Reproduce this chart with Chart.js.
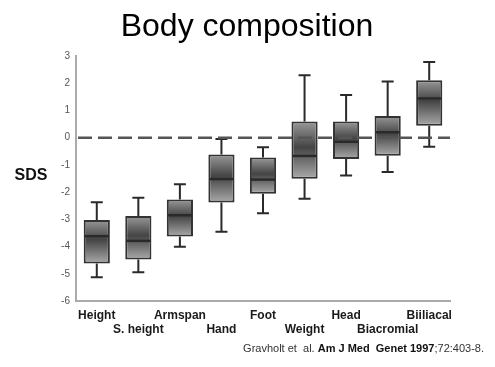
<!DOCTYPE html>
<html>
<head>
<meta charset="utf-8">
<script src="https://cdn.jsdelivr.net/npm/chart.js@4"></script>
<style>
  html, body { margin: 0; padding: 0; background: #fff; }
</style>
</head>
<body>
<canvas id="bodyChart" width="495" height="367"></canvas>
<script>
// Data (SDS per body measure)
const categories = ['Height', 'S. height', 'Armspan', 'Hand', 'Foot', 'Weight', 'Head', 'Biacromial', 'Biiliacal'];
const whiskerLow   = [-5.13, -4.94, -4.01, -3.46, -2.78, -2.24, -1.39, -1.26, -0.33];
const quartileLow  = [-4.62, -4.48, -3.63, -2.38, -2.06, -1.51, -0.78, -0.66, 0.44];
const medians      = [-3.62, -3.79, -2.85, -1.52, -1.54, -0.67, -0.15, 0.20, 1.44];
const quartileHigh = [-3.02, -2.88, -2.27, -0.62, -0.73, 0.59, 0.59, 0.80, 2.11];
const whiskerHigh  = [-2.37, -2.21, -1.71, -0.05, -0.35, 2.29, 1.57, 2.06, 2.78];
const yTicks = [3, 2, 1, 0, -1, -2, -3, -4, -5, -6];

const FONT = "'Liberation Sans', Arial, sans-serif";

// Whiskers, medians, zero line, title, side label and citation
const boxPlotPlugin = {
    id: 'boxPlot',
    afterDatasetsDraw(chart) {
        const { ctx, chartArea, scales: { y } } = chart;
        const meta = chart.getDatasetMeta(0);
        ctx.save();
        ctx.strokeStyle = '#2a2a2a';
        meta.data.forEach((bar, i) => {
            const x = bar.x;
            const half = bar.width / 2;
            const capHalf = 6;
            const yMax = y.getPixelForValue(whiskerHigh[i]);
            const yMin = y.getPixelForValue(whiskerLow[i]);
            const yQ3 = y.getPixelForValue(quartileHigh[i]);
            const yQ1 = y.getPixelForValue(quartileLow[i]);
            const yMed = y.getPixelForValue(medians[i]);

            ctx.lineWidth = 2;
            ctx.beginPath();
            ctx.moveTo(x, yQ3); ctx.lineTo(x, yMax);
            ctx.moveTo(x - capHalf, yMax); ctx.lineTo(x + capHalf, yMax);
            ctx.moveTo(x, yQ1); ctx.lineTo(x, yMin);
            ctx.moveTo(x - capHalf, yMin); ctx.lineTo(x + capHalf, yMin);
            ctx.stroke();

            ctx.lineWidth = 2.5;
            ctx.beginPath();
            ctx.moveTo(x - half + 1, yMed);
            ctx.lineTo(x + half - 1, yMed);
            ctx.stroke();
        });

        // dashed reference line at 0
        const y0 = y.getPixelForValue(0);
        ctx.strokeStyle = '#555';
        ctx.lineWidth = 2.5;
        ctx.setLineDash([14, 6]);
        ctx.beginPath();
        ctx.moveTo(chartArea.left + 2, y0);
        ctx.lineTo(chartArea.right, y0);
        ctx.stroke();
        ctx.restore();
    },
    afterDraw(chart) {
        const { ctx } = chart;
        ctx.save();
        ctx.fillStyle = '#000';
        ctx.font = '32px ' + FONT;
        ctx.textAlign = 'center';
        ctx.textBaseline = 'alphabetic';
        ctx.fillText('Body composition', 247, 36);

        ctx.fillStyle = '#111';
        ctx.font = 'bold 16px ' + FONT;
        ctx.textBaseline = 'middle';
        ctx.fillText('SDS', 31, 176);

        // citation, built right to left
        const parts = [
            { text: 'Gravholt et  al. ', font: '11px ' + FONT, color: '#333' },
            { text: 'Am J Med  Genet 1997', font: 'bold 11px ' + FONT, color: '#111' },
            { text: ';72:403-8.', font: '11px ' + FONT, color: '#333' }
        ];
        ctx.textAlign = 'left';
        ctx.textBaseline = 'alphabetic';
        let total = 0;
        parts.forEach(p => { ctx.font = p.font; p.w = ctx.measureText(p.text).width; total += p.w; });
        let x = 484 - total;
        parts.forEach(p => {
            ctx.font = p.font;
            ctx.fillStyle = p.color;
            ctx.fillText(p.text, x, 352);
            x += p.w;
        });
        ctx.restore();
    }
};

function boxGradient(context) {
    const { ctx, chartArea, scales } = context.chart;
    if (!chartArea || context.dataIndex === undefined) return '#888';
    const i = context.dataIndex;
    const top = scales.y.getPixelForValue(quartileHigh[i]);
    const bottom = scales.y.getPixelForValue(quartileLow[i]);
    const g = ctx.createLinearGradient(0, top, 0, bottom);
    g.addColorStop(0, '#999');
    g.addColorStop(0.45, '#444');
    g.addColorStop(1, '#aaa');
    return g;
}

const ctx = document.getElementById('bodyChart').getContext('2d');
const chart = new Chart(ctx, {
    type: 'bar',
    data: {
        labels: categories,
        datasets: [{
            data: categories.map((c, i) => [quartileLow[i], quartileHigh[i]]),
            backgroundColor: boxGradient,
            borderColor: '#333',
            borderWidth: 2,
            borderSkipped: false,
            barPercentage: 0.63,
            categoryPercentage: 1
        }]
    },
    options: {
        responsive: false,
        animation: false,
        layout: { padding: { left: 0, right: 45, top: 56, bottom: 0 } },
        plugins: {
            legend: { display: false },
            tooltip: { enabled: false },
            title: { display: false }
        },
        scales: {
            x: {
                offset: true,
                grid: { display: false, drawTicks: false },
                border: { color: '#aaa', width: 2 },
                afterFit(scale) { scale.height = 66; },
                ticks: {
                    autoSkip: false,
                    maxRotation: 0,
                    padding: 8,
                    color: '#1a1a1a',
                    font: { family: FONT, size: 12, weight: 'bold', lineHeight: 1.15 },
                    callback: (val, i) => (i % 2 ? ['', categories[i]] : categories[i])
                }
            },
            y: {
                min: -6,
                max: 3,
                grid: { display: false, drawTicks: false },
                border: { color: '#aaa', width: 2 },
                afterFit(scale) { scale.width = 76; },
                afterBuildTicks(scale) { scale.ticks = yTicks.map(v => ({ value: v })); },
                ticks: {
                    padding: 6,
                    color: '#555',
                    font: { family: FONT, size: 10 }
                }
            }
        }
    },
    plugins: [boxPlotPlugin]
});
</script>
</body>
</html>
